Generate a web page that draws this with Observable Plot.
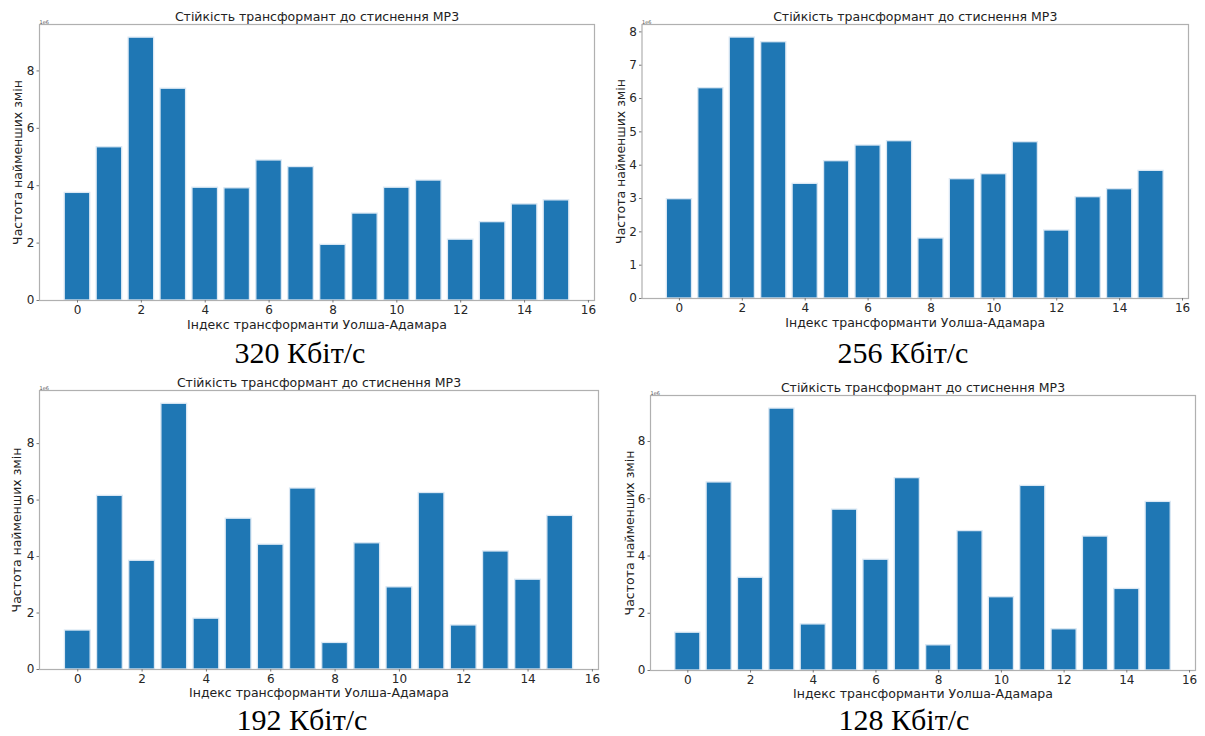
<!DOCTYPE html>
<html><head><meta charset="utf-8">
<script src="https://cdn.jsdelivr.net/npm/d3@7"></script>
<script src="https://cdn.jsdelivr.net/npm/@observablehq/plot@0.6"></script>
<style>
html,body{margin:0;padding:0;background:#fff;}
#page{position:relative;width:1205px;height:736px;overflow:hidden;background:#fff;}
.panel{position:absolute;}
.caption{position:absolute;width:300px;text-align:center;font-family:"Liberation Serif","Times New Roman",serif;font-size:30px;line-height:26px;color:#000;}
</style></head><body><div id="page"></div>
<script>
// ---- data (values in units of 1e6) ----
const indices = [0,1,2,3,4,5,6,7,8,9,10,11,12,13,14,15];
const v320 = [3.75,5.34,9.16,7.38,3.93,3.91,4.88,4.65,1.94,3.03,3.93,4.18,2.12,2.73,3.35,3.49];
const v256 = [2.98,6.31,7.83,7.69,3.44,4.12,4.59,4.72,1.80,3.58,3.73,4.69,2.04,3.04,3.28,3.83];
const v192 = [1.38,6.15,3.85,9.41,1.80,5.34,4.42,6.41,0.94,4.47,2.91,6.25,1.56,4.18,3.18,5.44];
const v128 = [1.32,6.57,3.24,9.15,1.61,5.62,3.87,6.72,0.88,4.87,2.56,6.45,1.44,4.68,2.85,5.89];
const xTicks = [0,2,4,6,8,10,12,14,16];
const yTicksEven = [0,2,4,6,8];
const yTicks256 = [0,1,2,3,4,5,6,7,8];
const titleText = "Стійкість трансформант до стиснення MP3";
const xLabel = "Індекс трансформанти Уолша-Адамара";
const yLabel = "Частота найменших змін";
const offsetLabel = "1e6";
const captions = ["320 Кбіт/с","256 Кбіт/с","192 Кбіт/с","128 Кбіт/с"];

const page = document.getElementById("page");

function panel(values, yTicks, caption, L) {
  const data = indices.map((i, k) => ({i, v: values[k]}));
  const ymax = d3.max(values) * 1.05;
  const span = 15.8;
  const xmin = -0.4 - 0.05 * span, xmax = 15.4 + 0.05 * span;
  const svg = Plot.plot({
    width: L.w, height: L.h,
    marginLeft: L.ml, marginRight: L.mr, marginTop: L.mt, marginBottom: L.mb,
    style: {fontFamily: "DejaVu Sans", background: "white", overflow: "visible"},
    x: {type: "linear", domain: [xmin, xmax]},
    y: {domain: [0, ymax]},
    marks: [
      Plot.rectY(data, {x1: d => d.i - 0.4, x2: d => d.i + 0.4, y: "v", fill: "#1f77b4", stroke: "#dbe8f4", strokeWidth: 1.3}),
      Plot.frame({stroke: "#b0b0b0", strokeWidth: 1.2}),
      Plot.axisX({ticks: xTicks, tickSize: 2.5, tickPadding: 2.5, fontSize: 12, stroke: "#777", fill: "#262626", label: null}),
      Plot.axisY({ticks: yTicks, tickSize: 2.5, tickPadding: 2.5, fontSize: 12, stroke: "#777", fill: "#262626", label: null}),
      Plot.text([titleText], {text: d => d, frameAnchor: "top", lineAnchor: "middle", dy: L.titleDy, fontSize: 12.5, fill: "#222"}),
      Plot.text([xLabel], {text: d => d, frameAnchor: "bottom", lineAnchor: "middle", dy: L.xlDy, fontSize: 12.5, fill: "#222"}),
      Plot.text([yLabel], {text: d => d, frameAnchor: "left", textAnchor: "middle", lineAnchor: "middle", dx: L.ylDx, rotate: -90, fontSize: 12.5, fill: "#222"}),
      Plot.text([offsetLabel], {text: d => d, frameAnchor: "top-left", lineAnchor: "bottom", dy: -1, textAnchor: "start", fontSize: 5, fill: "#555"})
    ]
  });
  const div = document.createElement("div");
  div.className = "panel";
  div.style.left = L.left + "px";
  div.style.top = L.top + "px";
  div.appendChild(svg);
  page.appendChild(div);
  const cap = document.createElement("div");
  cap.className = "caption";
  cap.textContent = caption;
  cap.style.left = (L.capX - 150) + "px";
  cap.style.top = (L.capBase - 23) + "px";
  page.appendChild(cap);
}

panel(v320, yTicksEven, captions[0], {left: 0, top: 0, w: 600, h: 345, ml: 39, mr: 6, mt: 24, mb: 45, titleDy: -8, xlDy: 24.3, ylDx: -22, capX: 300, capBase: 362.5});
panel(v256, yTicks256, captions[1], {left: 600, top: 0, w: 605, h: 345, ml: 41.5, mr: 17, mt: 24, mb: 47, titleDy: -7.5, xlDy: 24, ylDx: -21.5, capX: 903, capBase: 363});
panel(v192, yTicksEven, captions[2], {left: 0, top: 370, w: 600, h: 340, ml: 39, mr: 2, mt: 20, mb: 41, titleDy: -7.5, xlDy: 23.8, ylDx: -22.5, capX: 302, capBase: 730});
panel(v128, yTicksEven, captions[3], {left: 600, top: 370, w: 605, h: 340, ml: 50, mr: 10, mt: 25, mb: 40, titleDy: -8, xlDy: 23.5, ylDx: -21, capX: 904, capBase: 730});
</script>
</body></html>
